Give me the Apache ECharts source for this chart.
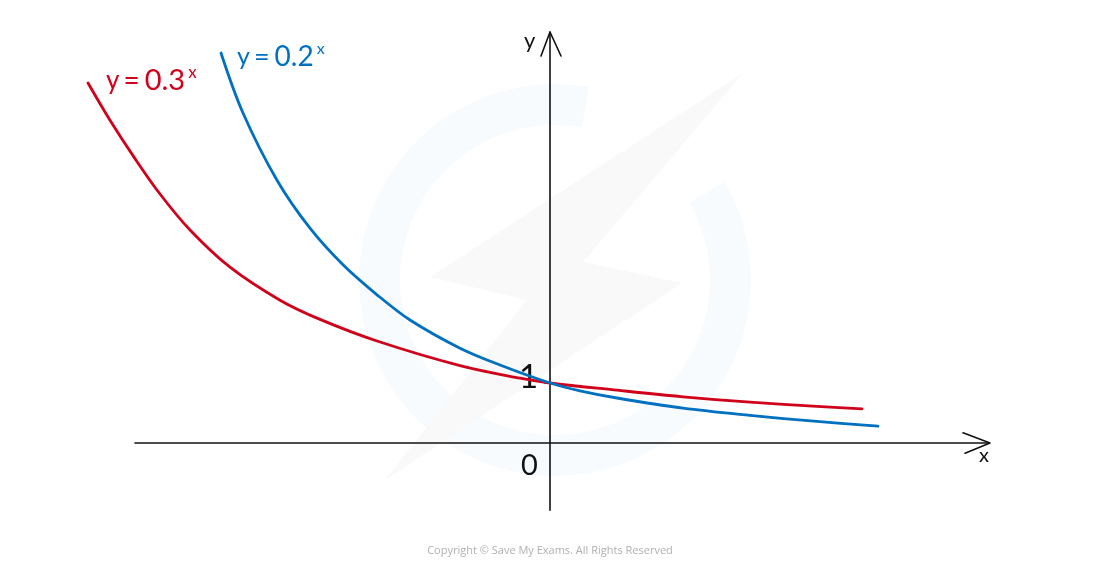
<!DOCTYPE html>
<html>
<head>
<meta charset="utf-8">
<script src="https://cdn.jsdelivr.net/npm/echarts@6/dist/echarts.min.js"></script>
<style>html,body{margin:0;padding:0;background:#fff}#c{width:1100px;height:570px}</style>
</head>
<body>
<div id="c"></div>
<script>
// Data (x: 1 unit = 100px, y: 1 unit = 60px)
const redX = [-4.62, -4.40, -4.15, -3.90, -3.60, -3.20, -2.70, -2.30, -1.73, -0.90, -0.30, 0, 0.67, 1.33, 2.00, 2.67, 3.12];
const redY = [6.00, 5.38, 4.74, 4.15, 3.55, 2.93, 2.38, 2.06, 1.70, 1.29, 1.08, 1.00, 0.88, 0.77, 0.68, 0.61, 0.57];
const blueX = [-3.29, -3.07, -2.73, -2.40, -2.07, -1.73, -1.40, -0.90, -0.50, 0, 0.30, 0.67, 1.33, 2.00, 2.67, 3.28];
const blueY = [6.50, 5.50, 4.38, 3.58, 2.97, 2.47, 2.05, 1.58, 1.30, 1.00, 0.87, 0.75, 0.58, 0.46, 0.36, 0.28];
const xAxisLineX = [-4.15, 4.38];
const yAxisLineY = [-1.12, 6.85];
const xArrowX = [4.13, 4.40, 4.15];
const xArrowY = [0.17, 0, -0.17];
const yArrowX = [-0.09, 0, 0.11];
const yArrowY = [6.45, 6.85, 6.45];
const tickOneX = [-0.05, 0];
const tickOneY = [1, 1];
const labels = { red: ['y', '=', '0.3', 'x'], blue: ['y', '=', '0.2', 'x'] };

const zip = (a, b) => a.map((v, i) => [v, b[i]]);
const RED = '#D0021B', BLUE = '#0070C0', BLACK = '#111';

const chart = echarts.init(document.getElementById('c'), null, { renderer: 'canvas' });
const lineS = (data, color, width, smooth) => ({
  type: 'line', data, symbol: 'none', smooth, silent: true, animation: false, z: 3,
  lineStyle: { color, width, cap: 'round', join: 'round' }
});
const richFor = (color, size) => ({
  a: { font: `${size}px Lato`, fill: color, padding: [0, 4, 0, 0] },
  b: { font: `${size + 2}px Lato`, fill: color, padding: [0, 5, 0, 0] },
  c: { font: `${size + 3}px Lato`, fill: color, padding: [0, 3, 0, 0] },
  s: { font: `${size - 9}px Lato`, fill: color, verticalAlign: 'top', padding: [0, 0, 16, 0] }
});
const labText = l => `{a|${l[0]}}{b|${l[1]}}{c|${l[2]}}{s|${l[3]}}`;
chart.setOption({
  backgroundColor: '#fff',
  animation: false,
  grid: { left: 0, right: 0, top: 23, bottom: 7 },
  xAxis: { type: 'value', min: -5.5, max: 5.5, show: false },
  yAxis: { type: 'value', min: -2, max: 7, show: false },
  series: [
    lineS(zip(xAxisLineX, [0, 0]), BLACK, 1.6, false),
    lineS(zip([0, 0], yAxisLineY), BLACK, 1.6, false),
    lineS(zip(xArrowX, xArrowY), BLACK, 1.6, false),
    lineS(zip(yArrowX, yArrowY), BLACK, 1.6, false),
    lineS(zip(tickOneX, tickOneY), BLACK, 1.6, false),
    lineS(zip(redX, redY), RED, 2.8, 0.35),
    lineS(zip(blueX, blueY), BLUE, 2.8, 0.35)
  ],
  graphic: [
    { type: 'sector', z: -10, silent: true,
      shape: { cx: 555, cy: 280, r: 196, r0: 155, startAngle: -Math.PI / 6, endAngle: Math.PI * 280 / 180 },
      style: { fill: '#f8fbfe' } },
    { type: 'polygon', z: -9, silent: true,
      shape: { points: [[743, 73], [430, 277], [527, 300], [385, 480], [682, 283], [583, 262]] },
      style: { fill: '#f9f9f9' } },
    { type: 'text', left: 524, top: 30, style: { text: 'y', font: '22px Lato', fill: BLACK } },
    { type: 'text', left: 979, top: 446, style: { text: 'x', font: '20px Lato', fill: BLACK } },
    { type: 'text', left: 521, top: 451, style: { text: '0', font: '29px Lato', fill: BLACK } },
    { type: 'text', left: 519, top: 361, style: { text: '1', font: '33px Lato', fill: BLACK } },
    { type: 'text', left: 106, top: 64, style: { text: labText(labels.red), fill: RED, rich: richFor(RED, 26) } },
    { type: 'text', left: 237, top: 41, style: { text: labText(labels.blue), fill: BLUE, rich: richFor(BLUE, 25) } },
    { type: 'text', left: 'center', top: 545, style: { text: 'Copyright © Save My Exams. All Rights Reserved', font: '11px "Open Sans"', fill: '#b0b0b0' } }
  ]
});
</script>
</body>
</html>
